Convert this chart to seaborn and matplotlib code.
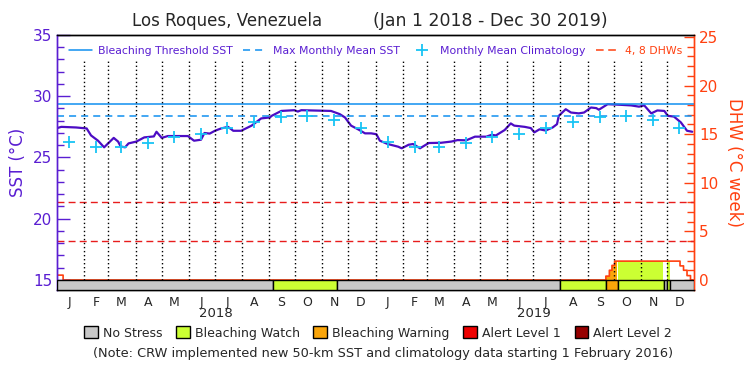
import pandas as pd
import seaborn as sns
import matplotlib.pyplot as plt
import matplotlib.dates as mdates
from matplotlib.lines import Line2D
from matplotlib.patches import Patch
from matplotlib.ticker import FixedLocator

# values
sst_dates = ['2018-01-01', '2018-01-06', '2018-01-23', '2018-02-04', '2018-02-09', '2018-02-17',
             '2018-02-24', '2018-03-07', '2018-03-12', '2018-03-15', '2018-03-20', '2018-03-24',
             '2018-04-02', '2018-04-11', '2018-04-22', '2018-04-25', '2018-05-01', '2018-05-08',
             '2018-05-31', '2018-06-07', '2018-06-15', '2018-06-19', '2018-06-25', '2018-07-01',
             '2018-07-08', '2018-07-16', '2018-07-22', '2018-07-31', '2018-08-12', '2018-08-23',
             '2018-09-02', '2018-09-04', '2018-09-15', '2018-09-30', '2018-10-04', '2018-10-08',
             '2018-11-11', '2018-11-21', '2018-11-27', '2018-12-04', '2018-12-12', '2018-12-20',
             '2018-12-27', '2019-01-02', '2019-01-06', '2019-01-15', '2019-01-27', '2019-01-31',
             '2019-02-08', '2019-02-13', '2019-02-21', '2019-03-03', '2019-03-17', '2019-03-29',
             '2019-04-05', '2019-04-15', '2019-04-25', '2019-05-08', '2019-05-14', '2019-05-19',
             '2019-05-29', '2019-06-05', '2019-06-09', '2019-06-21', '2019-06-28', '2019-07-02',
             '2019-07-08', '2019-07-15', '2019-07-23', '2019-07-28', '2019-07-30', '2019-08-07',
             '2019-08-13', '2019-08-22', '2019-08-28', '2019-09-05', '2019-09-11', '2019-09-14',
             '2019-09-24', '2019-10-09', '2019-10-21', '2019-10-30', '2019-11-05', '2019-11-13',
             '2019-11-20', '2019-11-28', '2019-12-02', '2019-12-09', '2019-12-17', '2019-12-24',
             '2019-12-30']
sst_values = [27.4, 27.5, 27.45, 27.37, 26.8, 26.37,
              25.83, 26.6, 26.3, 25.9, 25.83, 26.15,
              26.3, 26.64, 26.72, 27.1, 26.6, 26.75,
              26.75, 26.37, 26.45, 27.0, 26.95, 27.18,
              27.37, 27.5, 27.18, 27.18, 27.6, 28.19,
              28.27, 28.4, 28.8, 28.86, 28.75, 28.86,
              28.8, 28.54, 28.27, 27.6, 27.3, 26.97,
              26.97, 26.9, 26.37, 26.1, 25.88, 25.75,
              26.04, 26.1, 25.75, 26.18, 26.2, 26.3,
              26.42, 26.4, 26.7, 26.7, 26.85, 26.8,
              27.24, 27.78, 27.6, 27.5, 27.4, 27.05,
              27.3, 27.2, 27.45, 27.72, 28.4, 28.94,
              28.67, 28.6, 28.67, 29.08, 29.03, 28.9,
              29.35, 29.3, 29.25, 29.15, 29.25, 28.6,
              28.84, 28.8, 28.4, 28.34, 27.86, 27.18,
              27.1]

# monthly mean climatology (same each year), plotted mid-month
clim_values = [26.3, 25.83, 25.87, 26.15, 26.7, 26.93, 27.37, 27.88, 28.3, 28.4, 28.05, 27.37]
threshold_sst = 29.4
mmm_sst = 28.4
dhw_levels = [4, 8]

dhw_dates = ['2018-01-01', '2018-01-08', '2019-09-22', '2019-09-26', '2019-09-29', '2019-10-02',
             '2019-12-16', '2019-12-20', '2019-12-24', '2019-12-28']
dhw_values = [0.5, 0.0, 0.4, 1.0, 1.5, 1.94, 1.45, 1.0, 0.45, 0.0]

stress_starts = ['2018-01-01', '2018-09-05', '2018-11-18', '2019-07-31', '2019-09-22',
                 '2019-10-06', '2019-11-28', '2019-12-01', '2019-12-05']
stress_ends = ['2018-09-05', '2018-11-18', '2019-07-31', '2019-09-22', '2019-10-06',
               '2019-11-28', '2019-12-01', '2019-12-05', '2020-01-01']
stress_levels = [0, 1, 0, 1, 2, 1, 0, 1, 0]

level_names = ['No Stress', 'Bleaching Watch', 'Bleaching Warning', 'Alert Level 1', 'Alert Level 2']
level_colors = ['#c8c8c8', '#ccff33', '#faa50a', '#ee0000', '#960000']
month_letters = ['J', 'F', 'M', 'A', 'M', 'J', 'J', 'A', 'S', 'O', 'N', 'D']
years = ['2018', '2019']

purple = '#5a1ed2'
line_purple = '#4c0cc4'
blue = '#1090f0'
cyan = '#18c4f4'
orange = '#ff4010'
red = '#e81c1c'

sns.set_style('ticks', {'xtick.direction': 'in', 'ytick.direction': 'in'})
plt.rcParams['font.family'] = ['DejaVu Sans']
plt.rcParams['ytick.direction'] = 'in'

fig = plt.figure(figsize=(7.5, 3.75), dpi=100)
ax = fig.add_axes([57 / 750, 1 - 290 / 375, 637 / 750, 255 / 375])
ax2 = ax.twinx()
ax.set_zorder(ax2.get_zorder() + 1)
ax.patch.set_visible(False)

x0 = mdates.date2num(pd.Timestamp('2018-01-01'))
x1 = mdates.date2num(pd.Timestamp('2020-01-01'))
bar_bottom = 14.18

# DHW on the right axis, filled by stress level
day_index = pd.date_range('2018-01-01', '2019-12-31', freq='D')
dhw = pd.Series(dhw_values, index=pd.to_datetime(dhw_dates)).reindex(day_index).ffill()
status = pd.Series(0, index=day_index)
for s, e, lv in zip(stress_starts, stress_ends, stress_levels):
    status[(day_index >= s) & (day_index < e)] = lv
dnum = mdates.date2num(day_index)
for lv in range(1, 5):
    ax2.fill_between(dnum, 0, dhw.values, where=(status.values == lv), step='post',
                     color=level_colors[lv], lw=0)
ax2.plot(dnum, dhw.values, drawstyle='steps-post', color=orange, lw=1.2)
for lv in dhw_levels:
    ax2.axhline(lv, color=red, lw=1, ls=(0, (5, 3)))

# SST, climatology and thresholds on the left axis
sst = pd.DataFrame({'date': mdates.date2num(pd.to_datetime(sst_dates)), 'sst': sst_values})
sns.lineplot(data=sst, x='date', y='sst', ax=ax, color=line_purple, lw=1.6)
clim = pd.DataFrame({
    'date': mdates.date2num(pd.date_range('2018-01-01', periods=24, freq='MS') + pd.Timedelta(days=14)),
    'clim': clim_values * 2})
sns.scatterplot(data=clim, x='date', y='clim', ax=ax, marker='+', s=80, color=cyan,
                linewidth=1.3, zorder=4)
ax.axhline(threshold_sst, color=blue, lw=1.1)
ax.axhline(mmm_sst, color=blue, lw=1.1, ls=(0, (4.6, 3.3)))

month_starts = mdates.date2num(pd.date_range('2018-02-01', periods=23, freq='MS'))
ax.vlines(month_starts, 15, 33, color='black', lw=1, linestyles=[(0, (1, 1.9))])

# stress bar along the bottom
starts = mdates.date2num(pd.to_datetime(stress_starts))
widths = mdates.date2num(pd.to_datetime(stress_ends)) - starts
ax.bar(starts, [15 - bar_bottom] * len(starts), width=widths, bottom=bar_bottom, align='edge',
       color=[level_colors[lv] for lv in stress_levels], edgecolor='black', linewidth=1, zorder=3)

ax.set_xlim(x0, x1)
ax.set_ylim(bar_bottom, 35)
ax2.set_ylim(-1.03, 25.2)

mid_months = mdates.date2num(pd.date_range('2018-01-01', periods=24, freq='MS') + pd.Timedelta(days=14))
ax.set_xticks(mid_months)
ax.set_xticklabels(month_letters * 2)
ax.tick_params(axis='x', length=0, pad=4, labelsize=9)
for i, yr in enumerate(years):
    xm = mdates.date2num(pd.Timestamp(f'{yr}-07-02'))
    ax.text(xm, -0.094, yr, transform=ax.get_xaxis_transform(), ha='center', va='center', fontsize=9.5)

ax.set_yticks([15, 20, 25, 30, 35])
ax.yaxis.set_minor_locator(FixedLocator(range(15, 36)))
ax.tick_params(axis='y', which='major', direction='in', left=True, right=False, length=9, width=1,
               colors=purple, labelsize=11)
ax.tick_params(axis='y', which='minor', direction='in', left=True, right=False, length=5, width=1,
               colors=purple)
ax.set_ylabel('SST (°C)', color=purple, fontsize=12, labelpad=4)
ax.set_xlabel('')

ax2.set_yticks([0, 5, 10, 15, 20, 25])
ax2.yaxis.set_minor_locator(FixedLocator(range(0, 26)))
ax2.tick_params(axis='y', which='major', direction='in', left=False, right=True, length=7, width=1,
                colors=orange, labelsize=11)
ax2.tick_params(axis='y', which='minor', direction='in', left=False, right=True, length=5, width=1,
                colors=orange)
ax2.set_ylabel('DHW (°C week)', color=orange, fontsize=12, rotation=-90, labelpad=18)

for a in (ax, ax2):
    a.spines['left'].set_color(purple)
    a.spines['right'].set_color(orange)
    a.spines['top'].set_color('black')
    a.spines['bottom'].set_color('black')
    for sp in a.spines.values():
        sp.set_visible(True)
        sp.set_linewidth(1)

# legend inside the top of the plot
top_handles = [Line2D([], [], color=blue, lw=1.1),
               Line2D([], [], color=blue, lw=1.1, ls=(0, (4.6, 3.3))),
               Line2D([], [], color=cyan, marker='+', ls='none', markersize=9, mew=1.3),
               Line2D([], [], color=orange, lw=1.1, ls=(0, (5, 3)))]
top_labels = ['Bleaching Threshold SST', 'Max Monthly Mean SST', 'Monthly Mean Climatology', '4, 8 DHWs']
ax.legend(top_handles, top_labels, loc='upper center', bbox_to_anchor=(0.5, 0.995), ncol=4,
          frameon=False, fontsize=7.8, handlelength=2.2, handletextpad=0.5, columnspacing=1.0,
          labelcolor=[purple, purple, purple, orange])

fig.text(227 / 750, 1 - 21 / 375, 'Los Roques, Venezuela', ha='center', va='center', fontsize=12)
fig.text(490 / 750, 1 - 21 / 375, '(Jan 1 2018 - Dec 30 2019)', ha='center', va='center', fontsize=12.5)

fig.legend([Patch(facecolor=c, edgecolor='black', lw=1) for c in level_colors], level_names,
           loc='center', bbox_to_anchor=(378 / 750, 1 - 333 / 375), ncol=5, frameon=False,
           fontsize=9, handlelength=1.1, handleheight=1.1, handletextpad=0.4, columnspacing=1.1)
fig.text(383 / 750, 1 - 354 / 375,
         '(Note: CRW implemented new 50-km SST and climatology data starting 1 February 2016)',
         ha='center', va='center', fontsize=9.3)

fig.savefig('out.png', dpi=100)
